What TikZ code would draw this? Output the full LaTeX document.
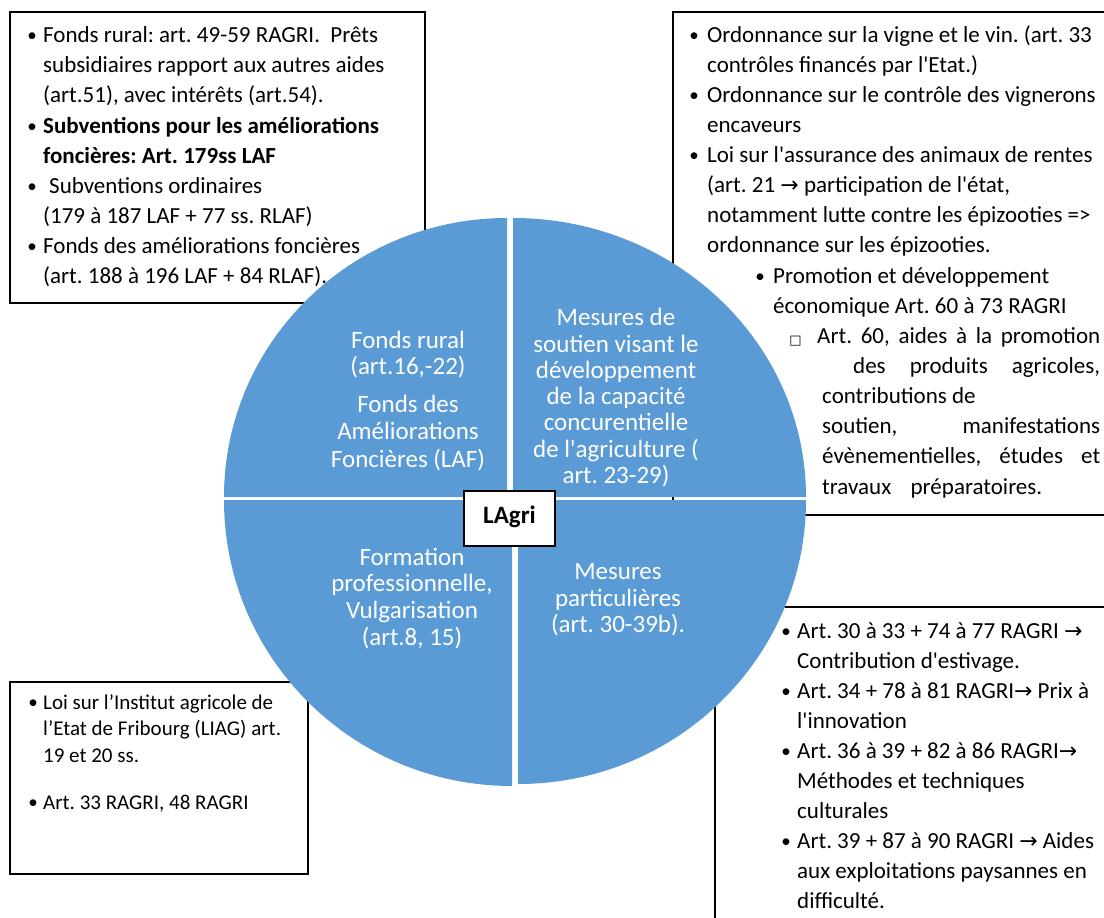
\documentclass[tikz,border=0pt]{standalone}
\usepackage{fontspec}
\setmainfont{Carlito}[Ligatures=TeXOff]
\newfontfamily\dejavu{DejaVu Sans}
\definecolor{pieblue}{HTML}{5B9BD5}
\newcommand\ar{{\fontsize{22}{22}\dejavu →}}
\newcommand\txtl[5]{\node[#1,anchor=base west] (#2) at (#3,#4) {#5};}
\newcommand\txtc[5]{\node[#1,anchor=base] (#2) at (#3,#4) {#5};}
\frenchspacing
\tikzset{
  bx/.style={inner sep=0pt,font=\fontsize{23}{30}\selectfont\frenchspacing},
  sm/.style={inner sep=0pt,font=\fontsize{21}{26}\selectfont\frenchspacing},
  bul/.style={inner sep=0pt,font=\fontsize{19}{19}\selectfont},
  pie/.style={inner sep=0pt,text=white,font=\fontsize{25}{27}\selectfont\frenchspacing},
  frame/.style={draw=black,fill=white,line width=1.6pt},
  quad/.style={fill=pieblue},
}
\begin{document}
\begin{tikzpicture}[x=1pt,y=-1pt]
\useasboundingbox (0,0) rectangle (1104,918);
\clip (0,0) rectangle (1104,918);
% boxes
\draw[frame] (10,12) rectangle (425,303);
\draw[frame] (673,12) rectangle (1112,515);
\draw[frame] (715,607) rectangle (1112,930);
\draw[frame] (10,682) rectangle (308,874);
% pie quadrants
\fill[quad] (507,497) -- (224,497) arc[start angle=180,end angle=90,x radius=283pt,y radius=279pt] -- cycle;
\fill[quad] (513,497) -- (806,497) arc[start angle=0,end angle=90,x radius=293pt,y radius=279pt] -- cycle;
\fill[quad] (512,500) -- (224,500) arc[start angle=180,end angle=270,x radius=288pt,y radius=286pt] -- cycle;
\fill[quad] (518,500) -- (806,500) arc[start angle=0,end angle=-90,x radius=288pt,y radius=284pt] -- cycle;
% centre
\node[frame,minimum width=91pt,minimum height=55pt,inner sep=0pt] (lagri) at (509.5,518.5) {};
\txtc{bx,font=\fontsize{25}{27}\selectfont\bfseries}{lagrit}{509.5}{523}{LAgri}
% pie texts
\txtc{pie}{ul1}{408}{348}{Fonds rural}
\txtc{pie}{ul2}{408}{374}{(art.16,-22)}
\txtc{pie}{ul3}{408}{412}{Fonds des}
\txtc{pie}{ul4}{408}{439}{Améliorations}
\txtc{pie}{ul5}{408}{467}{Foncières (LAF)}
\txtc{pie}{ur1}{616}{325}{Mesures de}
\txtc{pie}{ur2}{616}{352}{soutien visant le}
\txtc{pie}{ur3}{616}{378}{développement}
\txtc{pie}{ur4}{616}{404}{de la capacité}
\txtc{pie}{ur5}{616}{430}{concurentielle}
\txtc{pie}{ur6}{616}{457}{de l'agriculture (}
\txtc{pie}{ur7}{616}{483}{art. 23-29)}
\txtc{pie}{ll1}{412}{565}{Formation}
\txtc{pie}{ll2}{412}{591}{professionnelle,}
\txtc{pie}{ll3}{412}{618}{Vulgarisation}
\txtc{pie}{ll4}{412}{645}{(art.8, 15)}
\txtc{pie}{lr1}{618}{579}{Mesures}
\txtc{pie}{lr2}{618}{606}{particulières}
\txtc{pie}{lr3}{618}{632}{(art. 30-39b).}
% box 1
\txtc{bul}{a1b1}{32}{41}{•}
\txtc{bul}{a1b2}{32}{132}{•}
\txtc{bul}{a1b3}{32}{192}{•}
\txtc{bul}{a1b4}{32}{252}{•}
\txtl{bx}{a1l1}{43}{42}{Fonds rural: art. 49-59 RAGRI.~ Prêts}
\txtl{bx}{a1l2}{43}{72}{subsidiaires rapport aux autres aides}
\txtl{bx}{a1l3}{43}{102}{(art.51), avec intérêts (art.54).}
\txtl{bx,font=\fontsize{23}{30}\selectfont\bfseries\frenchspacing}{a1l4}{43}{133}{Subventions pour les améliorations}
\txtl{bx,font=\fontsize{23}{30}\selectfont\bfseries\frenchspacing}{a1l5}{43}{163}{foncières: Art. 179ss LAF}
\txtl{bx}{a1l6}{49}{193}{Subventions ordinaires}
\txtl{bx}{a1l7}{43}{223}{(179 à 187 LAF + 77 ss. RLAF)}
\txtl{bx}{a1l8}{43}{253}{Fonds des améliorations foncières}
\txtl{bx}{a1l9}{43}{283}{(art. 188 à 196 LAF + 84 RLAF).}
% box 2
\txtc{bul}{a2b1}{694}{41}{•}
\txtc{bul}{a2b2}{694}{101}{•}
\txtc{bul}{a2b3}{694}{161}{•}
\txtl{bx}{a2l1}{707}{42}{Ordonnance sur la vigne et le vin. (art. 33}
\txtl{bx}{a2l2}{707}{72}{contrôles financés par l'Etat.)}
\txtl{bx}{a2l3}{707}{102}{Ordonnance sur le contrôle des vignerons}
\txtl{bx}{a2l4}{707}{132}{encaveurs}
\txtl{bx}{a2l5}{707}{162}{Loi sur l'assurance des animaux de rentes}
\txtl{bx}{a2l6}{707}{192}{(art. 21 \ar{} participation de l'état,}
\txtl{bx}{a2l7}{707}{222}{notamment lutte contre les épizooties =>}
\txtl{bx}{a2l8}{707}{252}{ordonnance sur les épizooties.}
\txtc{bul}{a2b4}{760}{282}{•}
\txtl{bx}{a2l9}{773}{283}{Promotion et développement}
\txtl{bx}{a2l10}{773}{313}{économique Art. 60 à 73 RAGRI}
\txtc{bx,font=\fontsize{13}{13}\dejavu}{a2sq}{795.5}{344}{□}
\txtl{bx}{a2l11}{817}{343}{\makebox[283pt][s]{Art. 60, aides à la promotion}}
\txtl{bx}{a2l12}{853}{373}{\makebox[247pt][s]{des produits agricoles,}}
\txtl{bx}{a2l13}{822}{403}{contributions de}
\txtl{bx}{a2l14}{822}{433}{\makebox[278pt][s]{soutien, manifestations}}
\txtl{bx}{a2l15}{822}{463}{\makebox[278pt][s]{évènementielles, études et}}
\txtl{bx}{a2l16}{822}{494}{\makebox[220pt][s]{travaux préparatoires.}}
% box 3
\txtc{bul}{a3b1}{786}{637}{•}
\txtc{bul}{a3b2}{786}{697}{•}
\txtc{bul}{a3b3}{786}{757}{•}
\txtc{bul}{a3b4}{786}{847}{•}
\txtl{bx}{a3l1}{797}{638}{Art. 30 à 33 + 74 à 77 RAGRI \ar}
\txtl{bx}{a3l2}{797}{668}{Contribution d'estivage.}
\txtl{bx}{a3l3}{797}{698}{Art. 34 + 78 à 81 RAGRI\ar{} Prix à}
\txtl{bx}{a3l4}{797}{728}{l'innovation}
\txtl{bx}{a3l5}{797}{758}{Art. 36 à 39 + 82 à 86 RAGRI\ar}
\txtl{bx}{a3l6}{797}{788}{Méthodes et techniques}
\txtl{bx}{a3l7}{797}{818}{culturales}
\txtl{bx}{a3l8}{797}{848}{Art. 39 + 87 à 90 RAGRI \ar{} Aides}
\txtl{bx}{a3l9}{797}{878}{aux exploitations paysannes en}
\txtl{bx}{a3l10}{797}{908}{difficulté.}
% box 4
\txtc{bul}{a4b1}{33}{708}{•}
\txtc{bul}{a4b2}{33}{808}{•}
\txtl{sm}{a4l1}{43}{709}{Loi sur l’Institut agricole de}
\txtl{sm}{a4l2}{43}{735}{l’Etat de Fribourg (LIAG) art.}
\txtl{sm}{a4l3}{43}{762}{19 et 20 ss.}
\txtl{sm}{a4l4}{43}{809}{Art. 33 RAGRI, 48 RAGRI}
\end{tikzpicture}
\end{document}
